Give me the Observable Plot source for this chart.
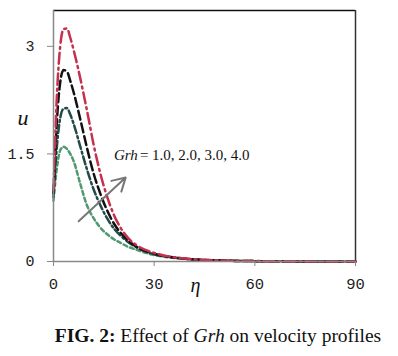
<!DOCTYPE html>
<html>
<head>
<meta charset="utf-8">
<script src="https://cdn.jsdelivr.net/npm/d3@7"></script>
<script src="https://cdn.jsdelivr.net/npm/@observablehq/plot@0.6"></script>
<style>
  body { margin: 0; background: #fff; width: 398px; height: 356px; position: relative; overflow: hidden; }
  #chart { position: absolute; left: 0; top: 0; }
  #caption { position: absolute; left: 0; width: 398px; top: 325px; text-align: center;
             font-family: "Liberation Serif", serif; font-size: 19.5px; color: #111; padding-left: 38px; box-sizing: border-box; }
</style>
</head>
<body>
<div id="chart"></div>
<div id="caption"><b>FIG. 2:</b> Effect of <i>Grh</i> on velocity profiles</div>
<script>
// η values (x)
const eta = [0, 1, 2, 3, 4, 5, 6, 8, 10, 12, 14, 16, 18, 20, 22, 25, 30, 35, 40, 50, 60, 70, 80, 90];
// velocity profiles u(η) for each Grh
const grhLabels = ["1.0", "2.0", "3.0", "4.0"];
const uGrh1 = [0.85, 1.30, 1.55, 1.60, 1.57, 1.50, 1.40, 1.08, 0.78, 0.60, 0.47, 0.38, 0.31, 0.26, 0.21, 0.16, 0.09, 0.055, 0.033, 0.012, 0.005, 0.002, 0.001, 0];
const uGrh2 = [0.90, 1.60, 2.00, 2.13, 2.14, 2.05, 1.92, 1.60, 1.28, 1.00, 0.78, 0.60, 0.46, 0.36, 0.28, 0.19, 0.10, 0.06, 0.035, 0.013, 0.005, 0.002, 0.001, 0];
const uGrh3 = [0.95, 1.95, 2.50, 2.67, 2.65, 2.52, 2.36, 1.98, 1.58, 1.22, 0.94, 0.71, 0.53, 0.40, 0.30, 0.20, 0.11, 0.062, 0.036, 0.013, 0.005, 0.002, 0.001, 0];
const uGrh4 = [1.00, 2.30, 3.00, 3.24, 3.25, 3.12, 2.95, 2.55, 2.10, 1.62, 1.22, 0.90, 0.65, 0.47, 0.34, 0.22, 0.12, 0.065, 0.038, 0.014, 0.006, 0.003, 0.001, 0];
// axis ticks
const xTicks = [0, 30, 60, 90];
const yTicks = [0, 1.5, 3];
// annotation arrow (data coords) and label
const arrowFrom = {x: 7.5, y: 0.56};
const arrowTo = {x: 21.5, y: 1.17};
const annotPos = {x: 18, y: 1.48};

const seriesU = [uGrh1, uGrh2, uGrh3, uGrh4];
const styles = [
  {stroke: "#4f9a70", dash: "4,3"},
  {stroke: "#244a4a", dash: "8,3,2,3"},
  {stroke: "#111111", dash: "9,4"},
  {stroke: "#c4304e", dash: "11,4,2,4"}
];
const rows = [];
seriesU.forEach((arr, i) => arr.forEach((u, j) => rows.push({eta: eta[j], u, grh: grhLabels[i]})));

const lineMarks = grhLabels.map((g, i) =>
  Plot.line(rows.filter(d => d.grh === g), {
    x: "eta", y: "u", stroke: styles[i].stroke, strokeWidth: 2.5,
    strokeDasharray: styles[i].dash, curve: "monotone-x"
  })
);

const chart = Plot.plot({
  width: 398,
  height: 300,
  marginLeft: 53,
  marginRight: 43,
  marginTop: 10,
  marginBottom: 39,
  style: {background: "#fff", fontFamily: "Liberation Mono, monospace"},
  x: {domain: [0, 90], label: null},
  y: {domain: [0, 3.5], label: null},
  marks: [
    // frame
    Plot.ruleY([3.5], {stroke: "#111", strokeWidth: 1.5}),
    Plot.ruleX([90], {stroke: "#333", strokeWidth: 1.5}),
    ...lineMarks,
    Plot.ruleX([0], {stroke: "#888", strokeWidth: 1.5}),
    Plot.ruleY([0], {stroke: "#888", strokeWidth: 1.5}),
    Plot.axisX({ticks: xTicks, tickSize: 5, tickPadding: 11, fontSize: 15.5, stroke: "#888",
      fill: "#222", fontFamily: "Liberation Mono, monospace"}),
    Plot.axisY({ticks: yTicks, tickSize: 6, tickPadding: 13, fontSize: 15, stroke: "#888",
      fill: "#222", fontFamily: "Liberation Mono, monospace", tickFormat: d => String(d)}),
    Plot.arrow([{x1: arrowFrom.x, y1: arrowFrom.y, x2: arrowTo.x, y2: arrowTo.y}], {
      x1: "x1", y1: "y1", x2: "x2", y2: "y2", stroke: "#777", strokeWidth: 2, headLength: 11
    }),
    Plot.text(["Grh"], {x: annotPos.x, y: annotPos.y, textAnchor: "start", fontStyle: "italic",
      fontFamily: "Liberation Serif, serif", fontSize: 15, fill: "#111"}),
    Plot.text(["= 1.0, 2.0, 3.0, 4.0"], {x: annotPos.x, y: annotPos.y, dx: 26, textAnchor: "start",
      fontFamily: "Liberation Serif, serif", fontSize: 15, fill: "#111"}),
    Plot.text(["u"], {frameAnchor: "left", dx: -36, dy: -18, fontStyle: "italic",
      fontFamily: "Liberation Serif, serif", fontSize: 22, fill: "#111"}),
    Plot.text(["η"], {frameAnchor: "bottom", dx: -9, dy: 30, fontStyle: "italic",
      fontFamily: "Liberation Serif, serif", fontSize: 20, fill: "#111"})
  ]
});
document.getElementById("chart").appendChild(chart);
</script>
</body>
</html>
